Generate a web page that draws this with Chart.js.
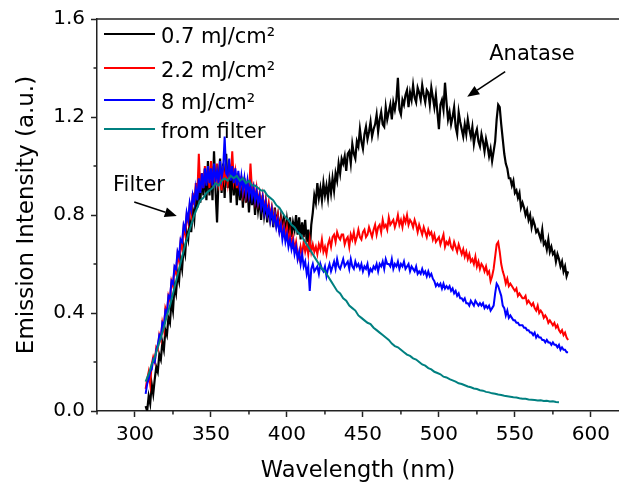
<!DOCTYPE html>
<html>
<head>
<meta charset="utf-8">
<script src="https://cdn.jsdelivr.net/npm/chart.js@4"></script>
<style>
html,body{margin:0;padding:0;background:#fff;overflow:hidden;}
#c{display:block;}
</style>
</head>
<body>
<canvas id="c" width="619" height="490"></canvas>
<script>
// ---- data ----
const wavelengths = [
307,308,309,310,311,312,313,314,315,316, 317,318,319,320,321,322,323,324,325,326,
327,328,329,330,331,332,333,334,335,336, 337,338,339,340,341,342,343,344,345,346,
347,348,349,350,351,352,353,354,355,356, 357,358,359,360,361,362,363,364,365,366,
367,368,369,370,371,372,373,374,375,376, 377,378,379,380,381,382,383,384,385,386,
387,388,389,390,391,392,393,394,395,396, 397,398,399,400,401,402,403,404,405,406,
407,408,409,410,411,412,413,414,415,416, 417,418,419,420,421,422,423,424,425,426,
427,428,429,430,431,432,433,434,435,436, 437,438,439,440,441,442,443,444,445,446,
447,448,449,450,451,452,453,454,455,456, 457,458,459,460,461,462,463,464,465,466,
467,468,469,470,471,472,473,474,475,476, 477,478,479,480,481,482,483,484,485,486,
487,488,489,490,491,492,493,494,495,496, 497,498,499,500,501,502,503,504,505,506,
507,508,509,510,511,512,513,514,515,516, 517,518,519,520,521,522,523,524,525,526,
527,528,529,530,531,532,533,534,535,536, 537,538,539,540,541,542,543,544,545,546,
547,548,549,550,551,552,553,554,555,556, 557,558,559,560,561,562,563,564,565,566,
567,568,569,570,571,572,573,574,575,576, 577,578,579,580,581,582,583,584,585];

const series07 = [
0.02,0.00,0.06,0.03,0.11,0.07,0.13,0.18,0.16,0.23, 0.21,0.28,0.25,0.33,0.31,0.38,0.36,0.45,0.41,0.51,
0.48,0.56,0.53,0.62,0.58,0.67,0.64,0.73,0.70,0.78, 0.73,0.82,0.78,0.88,0.83,0.92,0.85,0.97,0.88,0.99,
0.86,1.02,0.88,1.00,0.86,1.06,0.90,0.77,0.95,1.03, 0.89,1.01,0.87,1.05,0.91,0.99,0.85,1.00,0.88,0.97,
0.84,0.96,0.86,0.94,0.83,0.95,0.85,0.92,0.81,0.91, 0.84,0.90,0.80,0.89,0.82,0.87,0.78,0.88,0.80,0.85,
0.77,0.84,0.78,0.82,0.75,0.83,0.77,0.80,0.73,0.79, 0.74,0.80,0.71,0.78,0.73,0.79,0.71,0.77,0.74,0.80,
0.72,0.79,0.70,0.77,0.71,0.78,0.69,0.74,0.65,0.76, 0.81,0.88,0.85,0.93,0.87,0.91,0.86,0.93,0.88,0.92,
0.87,0.94,0.89,0.95,0.90,0.97,0.94,1.01,0.97,1.03, 1.01,1.04,0.98,1.05,1.06,1.01,1.09,1.05,1.03,1.10,
1.08,1.15,1.10,1.07,1.13,1.16,1.11,1.14,1.18,1.12, 1.15,1.17,1.21,1.14,1.19,1.22,1.17,1.16,1.24,1.19,
1.22,1.25,1.19,1.26,1.23,1.27,1.36,1.23,1.21,1.27, 1.25,1.29,1.31,1.24,1.30,1.27,1.33,1.28,1.26,1.32,
1.30,1.27,1.33,1.29,1.26,1.31,1.30,1.25,1.32,1.28, 1.24,1.29,1.22,1.15,1.25,1.27,1.23,1.34,1.26,1.19,
1.22,1.17,1.20,1.24,1.16,1.13,1.22,1.18,1.15,1.12, 1.17,1.13,1.19,1.15,1.12,1.16,1.09,1.13,1.15,1.10,
1.08,1.13,1.10,1.06,1.11,1.08,1.04,1.07,1.02,1.06, 1.10,1.19,1.25,1.24,1.17,1.11,1.05,1.01,0.99,0.95,
0.95,0.92,0.94,0.89,0.90,0.87,0.89,0.83,0.85,0.83, 0.80,0.82,0.78,0.80,0.75,0.78,0.76,0.73,0.74,0.72,
0.70,0.74,0.68,0.69,0.66,0.70,0.65,0.67,0.64,0.65, 0.61,0.64,0.62,0.59,0.61,0.57,0.59,0.55,0.57];

const series22 = [
0.09,0.13,0.16,0.11,0.19,0.22,0.20,0.26,0.25,0.31, 0.29,0.36,0.33,0.42,0.40,0.47,0.45,0.53,0.51,0.58,
0.56,0.64,0.61,0.69,0.66,0.75,0.72,0.80,0.77,0.84, 0.80,0.89,0.84,0.93,0.88,1.05,0.90,0.97,0.91,1.00,
0.93,0.99,0.91,1.02,0.94,0.98,0.92,1.01,0.93,0.97, 0.90,1.00,0.94,0.98,0.93,1.01,0.95,1.06,0.94,0.98,
0.91,0.97,0.90,0.96,0.89,0.94,0.88,0.93,0.89,1.01, 0.90,0.92,0.86,0.91,0.85,0.89,0.84,0.88,0.82,0.86,
0.81,0.85,0.79,0.83,0.78,0.81,0.76,0.80,0.74,0.78, 0.73,0.76,0.71,0.75,0.69,0.73,0.68,0.71,0.66,0.69,
0.64,0.62,0.67,0.64,0.69,0.65,0.68,0.64,0.70,0.65, 0.68,0.65,0.67,0.64,0.68,0.66,0.70,0.65,0.67,0.64,
0.68,0.70,0.67,0.71,0.72,0.69,0.73,0.71,0.70,0.72, 0.72,0.68,0.70,0.71,0.67,0.72,0.70,0.73,0.69,0.71,
0.74,0.71,0.70,0.73,0.74,0.71,0.72,0.75,0.73,0.71, 0.74,0.76,0.72,0.75,0.76,0.73,0.78,0.75,0.76,0.74,
0.79,0.76,0.77,0.78,0.75,0.77,0.80,0.76,0.78,0.75, 0.79,0.77,0.80,0.76,0.78,0.77,0.75,0.78,0.76,0.73,
0.76,0.74,0.72,0.75,0.73,0.71,0.74,0.72,0.73,0.70, 0.72,0.69,0.70,0.71,0.68,0.70,0.72,0.67,0.69,0.68,
0.70,0.67,0.66,0.69,0.67,0.65,0.68,0.66,0.64,0.66, 0.63,0.65,0.62,0.64,0.61,0.62,0.60,0.63,0.59,0.61,
0.58,0.60,0.59,0.57,0.59,0.56,0.57,0.53,0.55,0.58, 0.63,0.68,0.69,0.65,0.60,0.57,0.55,0.52,0.54,0.51,
0.52,0.51,0.50,0.49,0.50,0.47,0.48,0.47,0.46,0.46, 0.47,0.44,0.45,0.44,0.43,0.44,0.42,0.41,0.43,0.40,
0.41,0.40,0.38,0.39,0.38,0.36,0.37,0.36,0.35,0.36, 0.34,0.35,0.33,0.32,0.33,0.31,0.32,0.30,0.29];

const series8 = [
0.07,0.11,0.13,0.16,0.17,0.21,0.20,0.25,0.27,0.31, 0.30,0.36,0.35,0.41,0.40,0.47,0.46,0.53,0.52,0.59,
0.58,0.65,0.63,0.70,0.69,0.76,0.74,0.81,0.78,0.85, 0.82,0.88,0.85,0.91,0.86,0.95,0.89,0.97,0.91,0.99,
0.92,1.00,0.93,0.99,0.92,1.01,0.94,0.98,0.93,1.02, 0.95,0.99,1.12,0.97,0.96,1.03,0.94,1.00,0.93,0.99,
0.92,0.98,0.91,0.96,0.90,0.95,0.89,0.94,0.88,0.92, 0.87,0.91,0.86,0.90,0.85,0.88,0.83,0.87,0.81,0.85,
0.80,0.83,0.78,0.82,0.77,0.80,0.75,0.78,0.73,0.76, 0.70,0.74,0.69,0.72,0.67,0.70,0.66,0.69,0.64,0.67,
0.62,0.65,0.60,0.64,0.59,0.61,0.56,0.59,0.49,0.58, 0.60,0.57,0.58,0.59,0.56,0.60,0.58,0.57,0.59,0.55,
0.58,0.60,0.57,0.59,0.61,0.58,0.62,0.59,0.58,0.60, 0.62,0.59,0.60,0.61,0.58,0.62,0.59,0.58,0.61,0.59,
0.60,0.58,0.60,0.57,0.59,0.58,0.60,0.56,0.58,0.57, 0.59,0.58,0.60,0.57,0.60,0.59,0.61,0.58,0.62,0.60,
0.60,0.59,0.62,0.58,0.60,0.59,0.61,0.58,0.60,0.59, 0.61,0.58,0.59,0.60,0.57,0.59,0.58,0.57,0.59,0.56,
0.57,0.56,0.58,0.56,0.57,0.55,0.57,0.55,0.56,0.54, 0.53,0.51,0.52,0.51,0.52,0.50,0.52,0.50,0.51,0.50,
0.51,0.49,0.50,0.48,0.49,0.47,0.48,0.46,0.46,0.45, 0.46,0.44,0.44,0.43,0.45,0.44,0.43,0.45,0.44,0.43,
0.44,0.43,0.44,0.42,0.43,0.42,0.43,0.41,0.42,0.43, 0.48,0.52,0.51,0.49,0.47,0.43,0.42,0.39,0.41,0.38,
0.39,0.38,0.37,0.37,0.36,0.36,0.35,0.35,0.35,0.34, 0.34,0.33,0.33,0.32,0.32,0.31,0.32,0.30,0.31,0.30,
0.30,0.29,0.29,0.28,0.29,0.28,0.28,0.27,0.28,0.27, 0.27,0.26,0.27,0.25,0.26,0.25,0.25,0.24,0.24];

const filterWavelengths = [307,309,311,313,315,317,319,321,323,325,327,329,331,333,335,337,339,341,343,345,347,349,351,353,355,357,359,361,363,365,367,369,371,373,375,377,379,381,383,385,387,389,391,393,395,397,399,401,403,405,407,409,411,413,415,417,419,421,423,425,427,429,431,433,435,437,439,441,443,445,447,449,451,453,455,457,459,461,463,465,467,469,471,473,475,477,479,481,483,485,487,489,491,493,495,497,499,501,503,505,507,509,511,513,515,517,519,521,523,525,527,529,531,533,535,537,539,541,543,545,547,549,551,553,555,557,559,561,563,565,567,569,571,573,575,577,579];

const seriesFilter = [0.12,0.15,0.19,0.22,0.26,0.30,0.34,0.39,0.43,0.48,0.53,0.58,0.63,0.68,0.72,0.76,0.80,0.83,0.86,0.87,0.89,0.90,0.91,0.93,0.92,0.94,0.95,0.94,0.96,0.95,0.96,0.94,0.95,0.93,0.94,0.92,0.92,0.91,0.90,0.90,0.88,0.87,0.86,0.84,0.83,0.81,0.79,0.78,0.76,0.75,0.73,0.72,0.70,0.68,0.66,0.64,0.62,0.60,0.58,0.57,0.55,0.53,0.51,0.49,0.48,0.46,0.45,0.43,0.42,0.41,0.39,0.38,0.37,0.36,0.355,0.34,0.33,0.32,0.31,0.30,0.29,0.275,0.265,0.26,0.25,0.24,0.23,0.225,0.215,0.21,0.20,0.19,0.185,0.175,0.17,0.16,0.155,0.15,0.14,0.137,0.13,0.125,0.12,0.113,0.11,0.105,0.10,0.097,0.092,0.09,0.085,0.083,0.078,0.076,0.072,0.07,0.067,0.065,0.062,0.06,0.058,0.056,0.055,0.052,0.05,0.05,0.047,0.046,0.045,0.043,0.044,0.041,0.042,0.039,0.04,0.037,0.036];

const seriesNames = ['0.7 mJ/cm\u00B2', '2.2 mJ/cm\u00B2', '8 mJ/cm\u00B2', 'from filter'];
const seriesColors = ['#000000', '#ff0000', '#0000ff', '#008080'];

const xTicks = [300, 350, 400, 450, 500, 550, 600];
const xMinorTicks = [275, 325, 375, 425, 475, 525, 575];
const yTicks = [0.0, 0.4, 0.8, 1.2, 1.6];
const yMinorTicks = [0.2, 0.6, 1.0, 1.4];

const xTitle = 'Wavelength (nm)';
const yTitle = 'Emission Intensity (a.u.)';
const annotations = [
  { text: 'Filter', tx: 139, ty: 186, fromX: 299.5, fromY: 0.853, toX: 327.5, toY: 0.796 },
  { text: 'Anatase', tx: 532, ty: 55, fromX: 543.6, fromY: 1.385, toX: 518.6, toY: 1.283 }
];
// -----------------------------------------------

const FONT = '"DejaVu Sans", sans-serif';
const AXIS = '#222222';

function toPoints(xs, vals) {
  const pts = [];
  for (let i = 0; i < vals.length; i++) pts.push({ x: xs[i], y: vals[i] });
  return pts;
}
const allSeries = [
  [wavelengths, series07],
  [wavelengths, series22],
  [wavelengths, series8],
  [filterWavelengths, seriesFilter]
];
const datasets = allSeries.map((s, i) => ({
  label: seriesNames[i],
  data: toPoints(s[0], s[1]),
  borderColor: seriesColors[i],
  backgroundColor: seriesColors[i],
  borderWidth: i === 0 ? 2.2 : 2,
  pointRadius: 0,
  tension: 0,
  fill: false,
  order: 4 - i
}));

const decorPlugin = {
  id: 'decor',
  afterDraw(chart) {
    const { ctx, chartArea, scales } = chart;
    const xs = scales.x, ys = scales.y;
    ctx.save();
    // top border
    ctx.strokeStyle = AXIS;
    ctx.lineWidth = 1.5;
    ctx.beginPath();
    ctx.moveTo(chartArea.left, chartArea.top);
    ctx.lineTo(chartArea.right, chartArea.top);
    ctx.stroke();
    // minor ticks
    ctx.beginPath();
    xMinorTicks.forEach(v => {
      const px = xs.getPixelForValue(v);
      ctx.moveTo(px, chartArea.bottom);
      ctx.lineTo(px, chartArea.bottom + 3.5);
    });
    yMinorTicks.forEach(v => {
      const py = ys.getPixelForValue(v);
      ctx.moveTo(chartArea.left, py);
      ctx.lineTo(chartArea.left - 3.5, py);
    });
    ctx.stroke();

    // legend
    const rows = [34, 68, 100, 129];
    ctx.font = '21px ' + FONT;
    ctx.textAlign = 'left';
    ctx.textBaseline = 'alphabetic';
    chart.data.datasets.forEach((ds, i) => {
      const y = rows[i];
      ctx.strokeStyle = ds.borderColor;
      ctx.lineWidth = 2;
      ctx.beginPath();
      ctx.moveTo(104, y);
      ctx.lineTo(155, y);
      ctx.stroke();
      ctx.fillStyle = '#000';
      ctx.fillText(ds.label, 161, y + 8.5);
    });

    // annotations
    ctx.font = '21px ' + FONT;
    ctx.textAlign = 'center';
    ctx.textBaseline = 'middle';
    annotations.forEach(a => {
      ctx.fillStyle = '#000';
      ctx.fillText(a.text, a.tx, a.ty);
      const x1 = xs.getPixelForValue(a.fromX), y1 = ys.getPixelForValue(a.fromY);
      const x2 = xs.getPixelForValue(a.toX), y2 = ys.getPixelForValue(a.toY);
      const ang = Math.atan2(y2 - y1, x2 - x1);
      const hl = 12, hw = 5;
      const bx = x2 - hl * Math.cos(ang), by = y2 - hl * Math.sin(ang);
      ctx.strokeStyle = '#000';
      ctx.lineWidth = 1.6;
      ctx.beginPath();
      ctx.moveTo(x1, y1);
      ctx.lineTo(bx, by);
      ctx.stroke();
      ctx.beginPath();
      ctx.moveTo(x2, y2);
      ctx.lineTo(bx + hw * Math.sin(ang), by - hw * Math.cos(ang));
      ctx.lineTo(bx - hw * Math.sin(ang), by + hw * Math.cos(ang));
      ctx.closePath();
      ctx.fill();
    });
    ctx.restore();
  }
};

new Chart(document.getElementById('c'), {
  type: 'line',
  data: { datasets },
  options: {
    responsive: false,
    animation: false,
    events: [],
    layout: { padding: { top: 19, left: 0, right: 0, bottom: 0 } },
    plugins: { legend: { display: false }, tooltip: { enabled: false } },
    scales: {
      x: {
        type: 'linear',
        min: 275,
        max: 618.5,
        afterBuildTicks: s => { s.ticks = xTicks.map(v => ({ value: v })); },
        afterFit: s => { s.height = 79; },
        border: { display: true, color: AXIS, width: 1.5 },
        grid: { drawOnChartArea: false, drawTicks: true, tickLength: 6, tickColor: AXIS, tickWidth: 1.5 },
        ticks: { color: '#000', font: { family: FONT, size: 20 }, padding: 6, maxRotation: 0, autoSkip: false, callback: v => String(v) },
        title: { display: true, text: xTitle, color: '#000', font: { family: FONT, size: 22.5 }, padding: { top: 0, bottom: 5 } }
      },
      y: {
        type: 'linear',
        min: 0,
        max: 1.6,
        afterBuildTicks: s => { s.ticks = yTicks.map(v => ({ value: v })); },
        afterFit: s => { s.width = 97; },
        border: { display: true, color: AXIS, width: 1.5 },
        grid: { drawOnChartArea: false, drawTicks: true, tickLength: 6, tickColor: AXIS, tickWidth: 1.5 },
        ticks: { color: '#000', font: { family: FONT, size: 20 }, padding: 6, autoSkip: false, callback: v => Number(v).toFixed(1) },
        title: { display: true, text: yTitle, color: '#000', font: { family: FONT, size: 23 }, padding: { top: 13, bottom: 0 } }
      }
    }
  },
  plugins: [decorPlugin]
});
</script>
</body>
</html>
